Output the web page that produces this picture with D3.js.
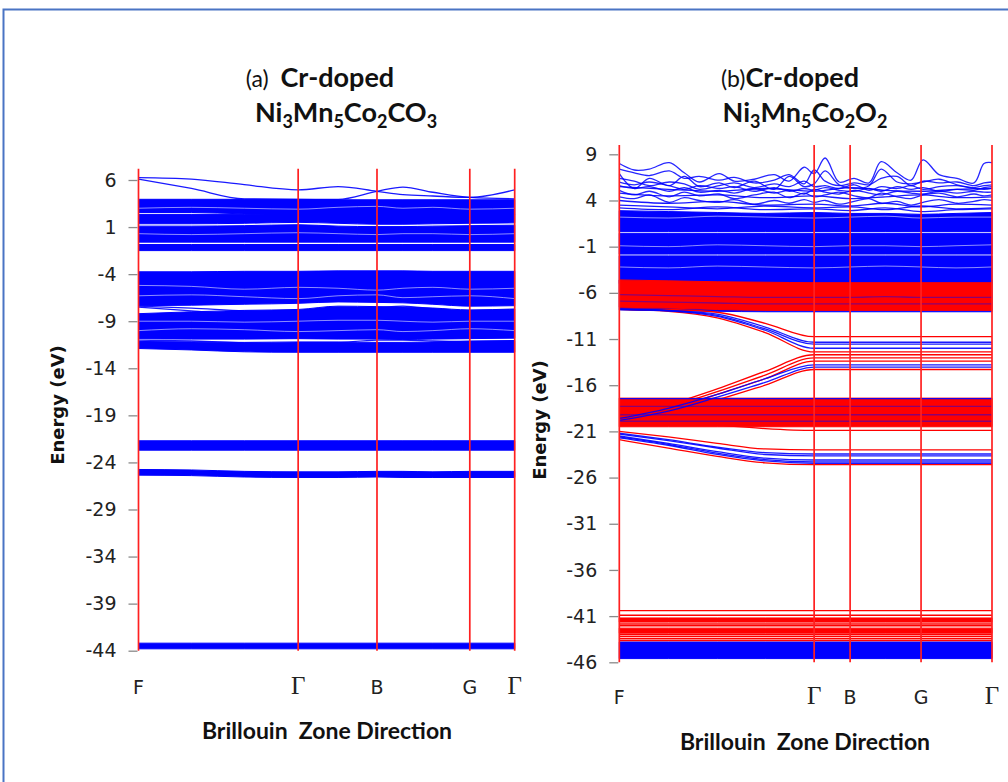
<!DOCTYPE html>
<html>
<head>
<meta charset="utf-8">
<script src="https://cdn.jsdelivr.net/npm/d3@7"></script>
<style>
  body { margin: 0; background: #fff; }
  text { white-space: pre; }
</style>
</head>
<body>
<script>
// ---- shared ----
const symLabels = ["F", "Γ", "B", "G", "Γ"];

// ---- panel (a): Cr-doped Ni3Mn5Co2CO3 ----
const kA = [0, 0.53, 1.06, 1.6, 2.0, 2.39, 2.65, 2.95, 3.32, 3.77];
const symKA = [0, 1.6, 2.39, 3.32, 3.77];
const ticksA = [6, 1, -4, -9, -14, -19, -24, -29, -34, -39, -44];

// dense groups of bands, drawn as filled bundles (upper / lower edge)
const bundlesA = [
  { hi: [3.95, 3.95, 3.95, 3.95, 3.9, 3.9, 3.9, 3.9, 3.9, 3.9], lo: [2.55, 2.55, 2.4, 2.3, 2.3, 2.3, 2.3, 2.3, 2.3, 2.3] },
  { hi: [2.35, 2.35, 2.35, 2.35, 2.35, 2.35, 2.35, 2.35, 2.35, 2.35], lo: [1.35, 1.35, 1.4, 1.5, 1.4, 1.3, 1.3, 1.35, 1.4, 1.45] },
  { hi: [1.1, 1.1, 1.15, 1.25, 1.1, 1.05, 1.05, 1.1, 1.15, 1.2], lo: -0.6 },
  { hi: -0.85, lo: -1.5 },
  { hi: [-3.75, -3.75, -3.7, -3.7, -3.65, -3.65, -3.65, -3.7, -3.7, -3.7], lo: [-7.35, -7.3, -7.2, -7.1, -6.95, -7.0, -7.05, -7.2, -7.4, -7.35] },
  { hi: [-8.2, -8.0, -7.85, -7.75, -7.4, -7.45, -7.5, -7.6, -7.8, -7.7], lo: [-10.85, -10.9, -10.9, -10.85, -10.9, -10.9, -10.95, -10.9, -10.85, -10.8] },
  { hi: [-11.15, -11.2, -11.25, -11.2, -11.2, -11.25, -11.25, -11.2, -11.1, -11.05], lo: [-11.9, -12.05, -12.25, -12.3, -12.3, -12.3, -12.3, -12.3, -12.3, -12.3] },
  { hi: -21.7, lo: -22.7 },
  { hi: [-24.75, -24.8, -24.95, -25.0, -25.0, -24.95, -24.95, -25.0, -24.95, -24.95], lo: [-25.35, -25.4, -25.55, -25.6, -25.6, -25.55, -25.6, -25.6, -25.6, -25.6] },
  { hi: -43.2, lo: -43.8 }
];

// single bands
const linesA = [
  [6.25, 6.1, 5.5, 4.95, 5.3, 4.8, 4.45, 4.3, 4.15, 4.95],
  [6.1, 5.1, 4.0, 3.95, 3.95, 4.8, 5.25, 4.7, 4.15, 4.0],
  [-7.4, -7.6, -7.9, -8.0, -7.8, -7.6, -7.4, -7.7, -8.0, -8.2],
  [-7.5, -7.9, -8.3, -8.5, -8.6, -8.2, -7.9, -8.2, -8.4, -8.1],
  [-11.0, -11.1, -11.3, -11.5, -11.3, -11.0, -11.0, -11.1, -11.2, -11.3]
];

// thin white streaks that show through the dense blocks
const gapsA = [
  [-5.2, -5.3, -5.6, -5.4, -5.5, -5.7, -5.5, -5.4, -5.6, -5.5],
  [-6.3, -6.2, -6.4, -6.6, -6.3, -6.2, -6.5, -6.4, -6.3, -6.6],
  [-9.0, -9.0, -9.1, -9.0, -8.9, -8.9, -9.0, -9.1, -9.0, -9.0],
  [-10.0, -9.8, -9.9, -10.1, -10.0, -9.9, -10.1, -10.0, -9.8, -10.0],
  [3.0, 3.1, 3.0, 2.9, 3.1, 3.2, 3.0, 3.1, 2.9, 3.0],
  [0.3, 0.2, 0.3, 0.4, 0.3, 0.2, 0.3, 0.3, 0.2, 0.3]
];

// ---- panel (b): Cr-doped Ni3Mn5Co2O2 ----
const kB = [0, 0.49, 0.98, 1.46, 1.95, 2.31, 2.66, 3.02, 3.37, 3.73];
const symKB = [0, 1.95, 2.31, 3.02, 3.73];
const ticksB = [9, 4, -1, -6, -11, -16, -21, -26, -31, -36, -41, -46];

const upBundlesB = [
  { hi: [2.9, 2.8, 2.7, 2.6, 2.7, 2.6, 2.6, 2.5, 2.6, 2.7], lo: 0.65 },
  { hi: 0.45, lo: -1.8 },
  { hi: -2.0, lo: -5.0 },
  { hi: -4.6, lo: [-7.85, -7.95, -8.0, -8.05, -8.05, -8.05, -8.05, -8.05, -8.05, -8.05] },
  { hi: -43.8, lo: -45.6 }
];

const downBundlesB = [
  { hi: [-4.6, -4.7, -4.8, -4.85, -4.9, -4.9, -4.9, -4.9, -4.9, -4.9], lo: [-7.55, -7.65, -7.8, -7.9, -7.9, -7.9, -7.9, -7.9, -7.9, -7.9] },
  { hi: -17.4, lo: -20.5 },
  { hi: -41.2, lo: -41.65 },
  { hi: -42.3, lo: -42.85 }
];

const downLinesB = [
  [-7.7, -7.8, -8.1, -9.3, -10.75, -10.75, -10.75, -10.75, -10.75, -10.75],
  [-7.8, -8.0, -8.7, -10.3, -12.4, -12.4, -12.4, -12.4, -12.4, -12.4],
  [-20.1, -18.2, -16.4, -14.5, -12.7, -12.7, -12.7, -12.7, -12.7, -12.7],
  [-20.0, -18.4, -16.7, -14.9, -13.05, -13.05, -13.05, -13.05, -13.05, -13.05],
  [-20.2, -18.7, -17.0, -15.3, -13.4, -13.4, -13.4, -13.4, -13.4, -13.4],
  [-20.3, -19.0, -17.6, -16.0, -14.3, -14.3, -14.3, -14.3, -14.3, -14.3],
  [-19.2, -19.8, -20.3, -20.7, -20.9, -20.9, -20.9, -20.9, -20.9, -20.9],
  [-21.0, -21.6, -22.3, -22.9, -23.0, -23.0, -23.0, -23.0, -23.0, -23.0],
  [-21.9, -22.8, -23.7, -24.4, -24.6, -24.6, -24.6, -24.6, -24.6, -24.6]
];

const upLinesB = [
  [-7.75, -7.9, -8.3, -9.7, -11.35, -11.35, -11.35, -11.35, -11.35, -11.35],
  [-7.75, -7.95, -8.45, -9.9, -11.55, -11.55, -11.55, -11.55, -11.55, -11.55],
  [-7.8, -7.95, -8.55, -10.05, -12.0, -12.0, -12.0, -12.0, -12.0, -12.0],
  [-19.6, -18.5, -17.0, -15.3, -13.8, -13.8, -13.8, -13.8, -13.8, -13.8],
  [-19.8, -18.8, -17.3, -15.7, -14.05, -14.05, -14.05, -14.05, -14.05, -14.05],
  [-17.45, -17.45, -17.45, -17.45, -17.45, -17.45, -17.45, -17.45, -17.45, -17.45],
  [-21.2, -21.9, -22.7, -23.3, -23.45, -23.45, -23.45, -23.45, -23.45, -23.45],
  [-21.3, -22.0, -22.8, -23.5, -23.65, -23.65, -23.65, -23.65, -23.65, -23.65],
  [-21.5, -22.3, -23.2, -23.9, -24.1, -24.1, -24.1, -24.1, -24.1, -24.1],
  [-21.6, -22.4, -23.35, -24.05, -24.3, -24.3, -24.3, -24.3, -24.3, -24.3],
  [-21.7, -22.5, -23.5, -24.2, -24.45, -24.45, -24.45, -24.45, -24.45, -24.45],
  [4.0, 3.7, 3.9, 3.5, 3.6, 3.4, 3.7, 3.3, 3.6, 3.5],
  [3.5, 3.3, 3.1, 3.4, 3.2, 3.3, 3.0, 3.4, 3.1, 3.2],
  [3.2, 3.0, 3.3, 3.0, 3.1, 2.9, 3.2, 2.8, 3.0, 3.1],
  [4.8, 4.5, 4.6, 4.3, 4.5, 4.2, 4.4, 4.6, 4.3, 4.4],
  [5.5, 5.2, 5.0, 5.3, 5.0, 5.4, 5.1, 5.0, 5.2, 5.3]
];

// faint (mixed) blue bands lying inside the red blocks
const upFaintB = [
  [-6.2, -6.3, -6.4, -6.5, -6.5, -6.5, -6.4, -6.5, -6.5, -6.5],
  [-6.9, -7.0, -7.1, -7.2, -7.2, -7.2, -7.2, -7.2, -7.2, -7.2],
  [-18.3, -18.3, -18.3, -18.3, -18.3, -18.3, -18.3, -18.3, -18.3, -18.3],
  [-19.2, -19.2, -19.2, -19.2, -19.2, -19.2, -19.2, -19.2, -19.2, -19.2],
  [-19.9, -19.9, -19.9, -19.9, -19.9, -19.9, -19.9, -19.9, -19.9, -19.9]
];

// thin white streaks inside the dense valence block
const gapsB = [
  [2.2, 2.1, 2.3, 2.2, 2.1, 2.2, 2.3, 2.1, 2.2, 2.2],
  [-0.9, -1.0, -0.8, -0.9, -1.0, -0.9, -0.9, -1.0, -0.9, -0.8],
  [-3.2, -3.3, -3.1, -3.2, -3.3, -3.2, -3.1, -3.2, -3.3, -3.2]
];

// flat spin-down levels near -41..-44 eV
const downLevelsB = [-40.4, -40.9, -41.85, -42.05, -43.0, -43.2, -43.45, -43.65];

// oscillating conduction bands, on a finer k grid
const kWaveB = [0, 0.15, 0.3, 0.5, 0.65, 0.8, 1.0, 1.15, 1.35, 1.55, 1.7, 1.85, 1.95, 2.06, 2.2, 2.35, 2.5, 2.62, 2.78, 2.92, 3.04, 3.2, 3.38, 3.55, 3.65, 3.73];
const waveB = [
  [8.0, 7.3, 7.4, 8.1, 7.0, 6.0, 6.9, 6.1, 6.3, 6.8, 6.1, 7.6, 6.9, 8.6, 6.0, 6.4, 5.9, 8.2, 7.0, 6.2, 8.4, 6.8, 6.4, 5.9, 8.0, 8.1],
  [6.9, 5.3, 6.4, 5.6, 6.6, 5.5, 5.9, 5.4, 6.1, 5.2, 6.6, 5.5, 5.8, 7.2, 5.7, 5.3, 5.6, 7.4, 6.0, 5.8, 6.0, 6.3, 5.7, 5.4, 5.6, 5.7],
  [6.0, 5.7, 6.0, 5.6, 5.2, 5.6, 5.3, 5.5, 5.0, 5.4, 5.0, 5.3, 5.1, 5.4, 5.1, 5.0, 5.3, 5.0, 5.5, 5.2, 5.4, 5.0, 5.2, 5.1, 5.4, 5.5],
  [5.1, 4.6, 5.0, 4.4, 4.9, 4.5, 4.7, 4.2, 4.6, 4.9, 4.3, 4.8, 4.4, 4.6, 4.9, 4.5, 4.3, 4.8, 4.4, 4.2, 4.6, 4.8, 4.4, 4.7, 4.5, 4.6],
  [4.4, 4.2, 4.6, 3.8, 4.3, 4.0, 3.8, 4.1, 3.6, 4.0, 3.7, 4.1, 3.8, 4.0, 3.6, 3.9, 4.2, 3.7, 3.9, 3.5, 3.8, 4.1, 3.7, 3.9, 4.1, 4.0],
  [7.4, 7.0, 6.7, 7.2, 6.4, 6.6, 6.2, 6.5, 5.9, 6.2, 6.8, 5.8, 7.3, 6.1, 5.6, 5.9, 5.7, 6.4, 6.6, 5.6, 6.1, 5.9, 6.0, 5.6, 5.9, 6.0],
  [6.4, 6.1, 5.6, 6.0, 5.8, 5.2, 5.6, 5.9, 5.4, 5.8, 5.5, 6.1, 5.5, 5.6, 5.3, 5.7, 5.1, 5.5, 5.3, 5.6, 5.2, 5.5, 5.6, 5.3, 5.2, 5.3],
  [5.6, 5.3, 5.5, 5.0, 5.4, 4.9, 5.1, 4.8, 5.3, 4.8, 5.1, 4.7, 5.2, 4.9, 4.7, 5.1, 4.8, 4.6, 5.0, 4.8, 4.7, 5.0, 4.8, 5.0, 4.9, 4.9]
];

// ---- drawing ----
const width = 1008;
const height = 782;
const BLUE = "#0000ff";
const RED = "#ff0000";

const svg = d3.select("body").append("svg")
  .attr("width", width)
  .attr("height", height);

svg.append("rect")
  .attr("x", 3.5).attr("y", 9.5)
  .attr("width", 1030).attr("height", 800)
  .attr("fill", "none")
  .attr("stroke", "#4a74c4")
  .attr("stroke-width", 2);

const at = (v, i) => Array.isArray(v) ? v[i] : v;

function drawPanel(o) {
  const x = d3.scaleLinear().domain([0, o.sym[o.sym.length - 1]]).range(o.xRange);
  const y = d3.scaleLinear().domain(o.yDomain).range(o.yRange);
  const g = svg.append("g");

  const area = d3.area()
    .x(d => x(d.k)).y0(d => y(d.lo)).y1(d => y(d.hi))
    .curve(d3.curveMonotoneX);
  const line = d3.line()
    .x(d => x(d[0])).y(d => y(d[1]))
    .curve(d3.curveMonotoneX);
  const wavy = d3.line()
    .x(d => x(d[0])).y(d => y(d[1]))
    .curve(d3.curveCatmullRom.alpha(0.5));

  function bundles(list, color) {
    list.forEach(b => {
      const pts = o.k.map((k, i) => ({ k: k, hi: at(b.hi, i), lo: at(b.lo, i) }));
      g.append("path").attr("d", area(pts))
        .attr("fill", color).attr("stroke", color).attr("stroke-width", 1);
    });
  }
  function lines(list, kk, color, gen, opacity, w) {
    list.forEach(l => {
      g.append("path").attr("d", gen(kk.map((k, i) => [k, l[i]])))
        .attr("fill", "none").attr("stroke", color)
        .attr("stroke-width", w || 1.3).attr("stroke-opacity", opacity);
    });
  }

  bundles(o.upBundles || [], BLUE);
  lines(o.gaps || [], o.k, "#ffffff", line, 0.55, 1);
  bundles(o.downBundles || [], RED);
  (o.downLevels || []).forEach(e => {
    g.append("line")
      .attr("x1", x(0)).attr("x2", x(o.sym[o.sym.length - 1]))
      .attr("y1", y(e)).attr("y2", y(e))
      .attr("stroke", RED).attr("stroke-width", 1.4);
  });
  lines(o.downLines || [], o.k, RED, line, 1);
  lines(o.faint || [], o.k, BLUE, line, 0.45);
  lines(o.upLines || [], o.k, BLUE, line, 0.9);
  if (o.waves) lines(o.waves, o.kWave, BLUE, wavy, 0.85);

  // high-symmetry lines
  g.selectAll(".sym").data(o.sym).join("line")
    .attr("x1", d => x(d)).attr("x2", d => x(d))
    .attr("y1", y(o.yTop)).attr("y2", y(o.yDomain[1]))
    .attr("stroke", "#ff2020").attr("stroke-width", 1.7);

  // energy axis
  const ax = g.append("g")
    .attr("transform", `translate(${o.xRange[0] - 1},0)`)
    .call(d3.axisLeft(y).tickValues(o.ticks).tickSize(9).tickPadding(12).tickFormat(d => String(d)));
  ax.select(".domain").remove();
  ax.selectAll(".tick line").attr("stroke", "#8a8a8a").attr("stroke-width", 1.3);
  ax.selectAll(".tick text")
    .attr("font-family", "DejaVu Sans, Verdana, sans-serif")
    .attr("font-size", 19).attr("fill", "#222");

  // k-point labels
  g.selectAll(".klab").data(o.sym).join("text")
    .attr("x", d => x(d)).attr("y", o.kLabelY)
    .attr("text-anchor", "middle")
    .attr("font-family", (d, i) => symLabels[i] === "Γ" ? "Liberation Serif, serif" : "DejaVu Sans, sans-serif")
    .attr("font-size", (d, i) => symLabels[i] === "Γ" ? 25 : 19)
    .attr("fill", "#222")
    .text((d, i) => symLabels[i]);

  g.append("text")
    .attr("x", o.xTitleX).attr("y", o.xTitleY)
    .attr("text-anchor", "middle")
    .attr("font-family", "Lato, sans-serif").attr("font-weight", "bold")
    .attr("font-size", 23).attr("fill", "#111")
    .text("Brillouin  Zone Direction");

  g.append("text")
    .attr("transform", `translate(${o.yTitleX},${o.yTitleY}) rotate(-90)`)
    .attr("text-anchor", "middle")
    .attr("font-family", "DejaVu Sans, sans-serif").attr("font-weight", "bold")
    .attr("font-size", 18).attr("fill", "#111")
    .text("Energy (eV)");

  // two-line title
  const t1 = g.append("text")
    .attr("x", o.titleX1).attr("y", 87)
    .attr("text-anchor", "middle")
    .attr("font-family", "Lato, sans-serif").attr("font-size", 27).attr("fill", "#111");
  t1.append("tspan").attr("font-size", 23).text(o.tag);
  t1.append("tspan").attr("font-weight", "bold").text("Cr-doped");

  const t2 = g.append("text")
    .attr("x", o.titleX2).attr("y", 122)
    .attr("text-anchor", "middle")
    .attr("font-family", "Lato, sans-serif").attr("font-weight", "bold")
    .attr("font-size", 27).attr("fill", "#111");
  let shifted = false;
  o.formula.match(/[A-Za-z]+|\d+/g).forEach(part => {
    const sub = /\d/.test(part);
    const ts = t2.append("tspan").attr("font-size", sub ? 18 : 27).text(part);
    if (sub && !shifted) { ts.attr("dy", 6); shifted = true; }
    else if (!sub && shifted) { ts.attr("dy", -6); shifted = false; }
  });
}

drawPanel({
  k: kA, sym: symKA, ticks: ticksA,
  xRange: [138.5, 514.7], yDomain: [6, -44], yRange: [180, 650.7], yTop: 7.2,
  upBundles: bundlesA, upLines: linesA, gaps: gapsA,
  kLabelY: 694, xTitleX: 327, xTitleY: 739, yTitleX: 64, yTitleY: 405,
  titleX1: 320, titleX2: 346, tag: "(a)  ", formula: "Ni3Mn5Co2CO3"
});

drawPanel({
  k: kB, sym: symKB, ticks: ticksB,
  xRange: [619.3, 992], yDomain: [9, -46], yRange: [154.3, 662.3], yTop: 10,
  upBundles: upBundlesB, downBundles: downBundlesB, gaps: gapsB,
  downLines: downLinesB, upLines: upLinesB, faint: upFaintB,
  downLevels: downLevelsB, kWave: kWaveB, waves: waveB,
  kLabelY: 704, xTitleX: 805, xTitleY: 750, yTitleX: 546, yTitleY: 420,
  titleX1: 790, titleX2: 805, tag: "(b)", formula: "Ni3Mn5Co2O2"
});
</script>
</body>
</html>
